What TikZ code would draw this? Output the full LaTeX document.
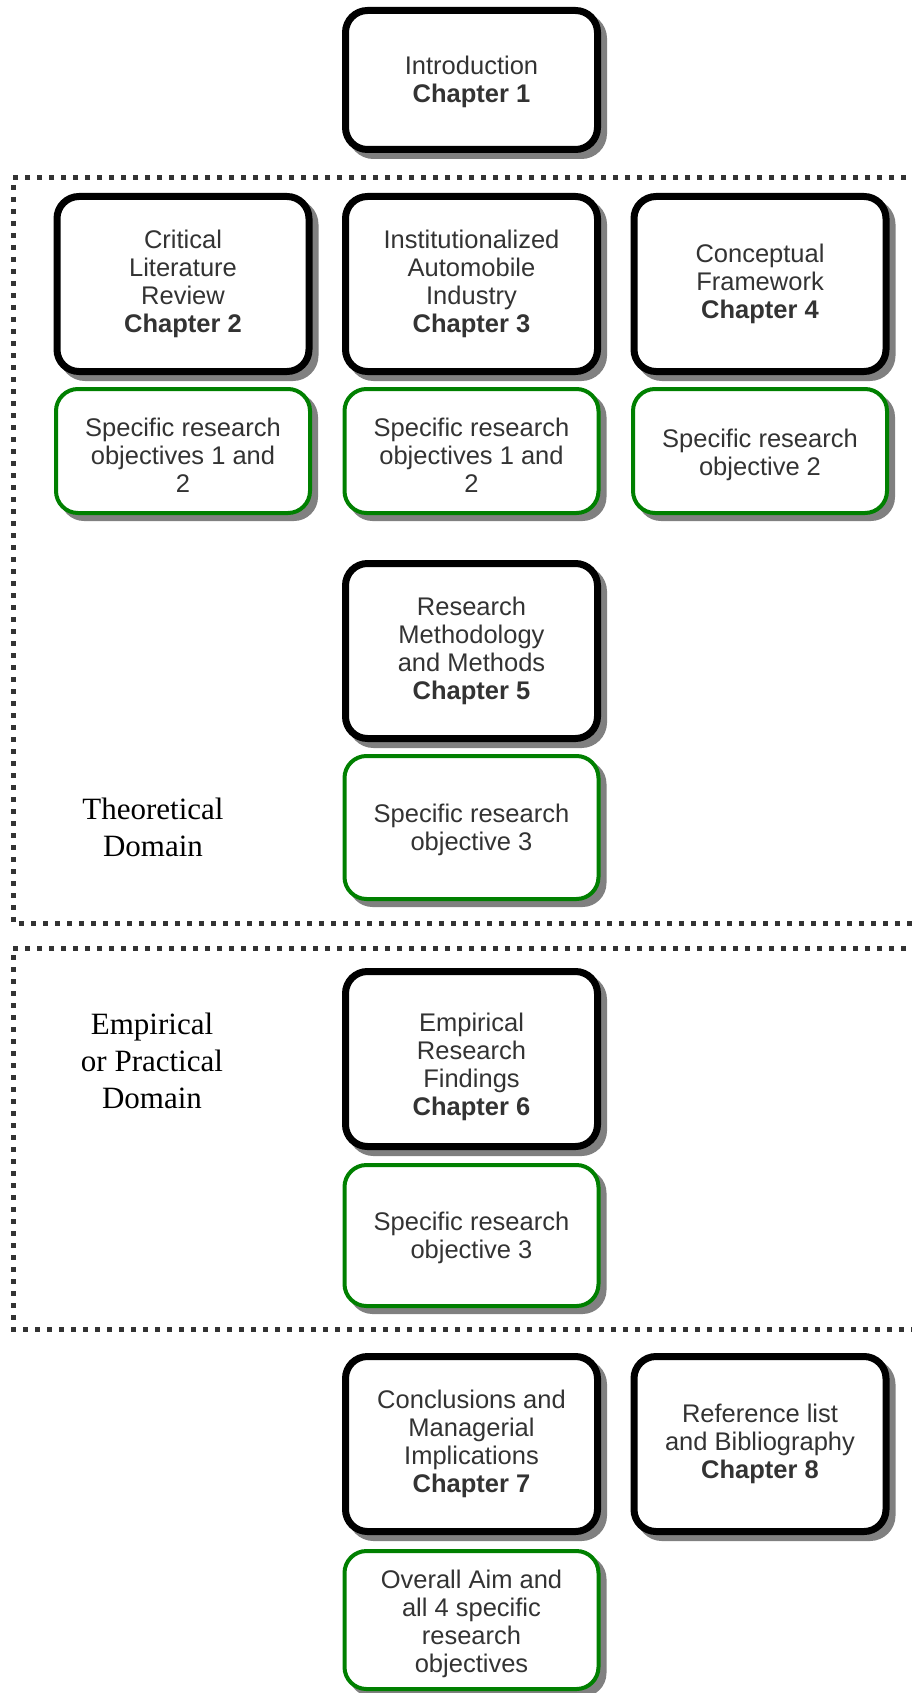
\documentclass[tikz,border=0pt]{standalone}
\usepackage{fontspec}
\newfontfamily\boxfont{Liberation Sans}
\newfontfamily\labelfont{Liberation Serif}
\definecolor{txtgray}{RGB}{51,51,51}
\definecolor{shadowgray}{RGB}{128,128,128}
\definecolor{objgreen}{RGB}{0,128,0}
\definecolor{framegray}{RGB}{51,51,51}
\tikzset{
  shadowed/.style={preaction={draw=shadowgray, fill=shadowgray,
      transform canvas={shift={(6pt,-6pt)}}}},
  chapterbox/.style={shadowed, draw=black, fill=white, line width=7pt,
      rounded corners=22pt, minimum width=252pt, minimum height=175pt,
      inner sep=0pt},
  objbox/.style={shadowed, draw=objgreen, fill=white, line width=4pt,
      rounded corners=22pt, minimum width=254pt, minimum height=141pt,
      inner sep=0pt},
  boxtext/.style={align=center, text=txtgray, inner sep=0pt,
      font=\boxfont\fontsize{25.5}{28}\selectfont},
  domainlabel/.style={align=center, text=black, inner sep=0pt,
      font=\labelfont\fontsize{31}{37}\selectfont},
  domainframe/.style={draw=framegray, line width=5pt,
      dash pattern=on 5pt off 7pt}
}
\begin{document}
\begin{tikzpicture}[x=1pt, y=-1pt]
\useasboundingbox[fill=white] (0,0) rectangle (912,1693);

% domain frames (open on the right)
\draw[domainframe] (930,178) -- (13,178) -- (13,923) -- (930,923);
\draw[domainframe] (930,948) -- (13,948) -- (13,1329) -- (930,1329);

% introduction
\node[chapterbox, minimum height=139pt] (ch1) at (471.5,80) {};
\node[boxtext] (ch1-text) at ([yshift=-2pt]ch1.center)
  {Introduction\\\textbf{Chapter 1}};

% theoretical chapters
\node[chapterbox] (ch2) at (183,284) {};
\node[boxtext] (ch2-text) at (ch2.center)
  {Critical\\Literature\\Review\\\textbf{Chapter 2}};
\node[chapterbox] (ch3) at (471.5,284) {};
\node[boxtext] (ch3-text) at (ch3.center)
  {Institutionalized\\Automobile\\Industry\\\textbf{Chapter 3}};
\node[chapterbox] (ch4) at (760,284) {};
\node[boxtext] (ch4-text) at (ch4.center)
  {Conceptual\\Framework\\\textbf{Chapter 4}};

\node[objbox, minimum height=124pt] (obj2) at (183,451) {};
\node[boxtext] (obj2-text) at ([yshift=-4pt]obj2.center)
  {Specific research\\objectives 1 and\\2};
\node[objbox, minimum height=124pt] (obj3) at (471.5,451) {};
\node[boxtext] (obj3-text) at ([yshift=-4pt]obj3.center)
  {Specific research\\objectives 1 and\\2};
\node[objbox, minimum height=124pt] (obj4) at (760,451) {};
\node[boxtext] (obj4-text) at ([yshift=-4pt]obj4.center)
  {Specific research\\objective 2};

\node[chapterbox] (ch5) at (471.5,651) {};
\node[boxtext] (ch5-text) at (ch5.center)
  {Research\\Methodology\\and Methods\\\textbf{Chapter 5}};
\node[objbox, minimum height=143pt] (obj5) at (471.5,827.5) {};
\node[boxtext] (obj5-text) at ([yshift=-2pt]obj5.center)
  {Specific research\\objective 3};

\node[domainlabel] (theory) at (153,827) {Theoretical\\Domain};

% empirical chapter
\node[chapterbox] (ch6) at (471.5,1059) {};
\node[boxtext] (ch6-text) at ([yshift=-8pt]ch6.center)
  {Empirical\\Research\\Findings\\\textbf{Chapter 6}};
\node[objbox] (obj6) at (471.5,1235.5) {};
\node[boxtext] (obj6-text) at ([yshift=-2pt]obj6.center)
  {Specific research\\objective 3};

\node[domainlabel] (empiric) at (152,1061) {Empirical\\or Practical\\Domain};

% closing chapters
\node[chapterbox] (ch7) at (471.5,1444) {};
\node[boxtext] (ch7-text) at (ch7.center)
  {Conclusions and\\Managerial\\Implications\\\textbf{Chapter 7}};
\node[chapterbox] (ch8) at (760,1444) {};
\node[boxtext] (ch8-text) at (ch8.center)
  {Reference list\\and Bibliography\\\textbf{Chapter 8}};
\node[objbox, minimum height=138pt] (obj7) at (471.5,1620) {};
\node[boxtext] (obj7-text) at ([yshift=-4pt]obj7.center)
  {Overall Aim and\\all 4 specific\\research\\objectives};
\end{tikzpicture}
\end{document}
